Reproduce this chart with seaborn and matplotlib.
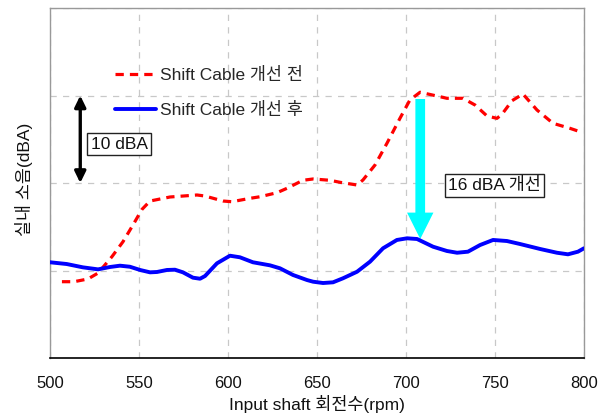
import numpy as np
import pandas as pd
import matplotlib
matplotlib.use("Agg")
import matplotlib.pyplot as plt
import seaborn as sns

# ---- data ----
rpm_before = [506.7, 513.5, 521.3, 527.0, 534.8, 541.0, 546.6, 551.7, 556.2, 567.4,
              582.6, 587.1, 597.2, 602.2, 612.4, 618.0, 627.5, 633.1, 642.1, 647.8,
              657.3, 662.9, 672.5, 675.8, 682.6, 689.3, 696.6, 702.2, 707.9, 717.4,
              723.0, 732.0, 738.8, 745.5, 751.1, 753.9, 759.6, 765.7, 773.6, 782.6,
              792.1, 799.4]
noise_before = [48.72, 48.72, 49.03, 49.71, 51.58, 53.29, 55.20, 56.99, 57.94, 58.40,
                58.63, 58.51, 57.94, 57.86, 58.25, 58.43, 58.89, 59.39, 60.31, 60.46,
                60.31, 60.08, 59.77, 60.34, 62.06, 64.54, 67.39, 69.49, 70.37, 69.94,
                69.68, 69.68, 68.91, 67.66, 67.39, 67.85, 69.41, 70.17, 68.34, 66.82,
                66.25, 65.75]

rpm_after = [500.0, 509.4, 518.5, 527.0, 533.7, 539.3, 544.9, 550.6, 556.2, 560.1,
             565.7, 570.2, 574.7, 580.3, 584.3, 587.1, 593.8, 601.1, 606.7, 614.0,
             623.6, 629.2, 636.5, 644.4, 647.8, 653.4, 659.0, 664.6, 672.5, 679.8,
             687.1, 694.9, 700.6, 706.2, 715.2, 723.0, 728.7, 734.8, 741.6, 748.9,
             756.7, 764.0, 775.3, 784.8, 791.0, 796.6, 800.0]
noise_after = [50.94, 50.74, 50.36, 50.13, 50.40, 50.55, 50.43, 50.06, 49.79, 49.83,
               50.06, 50.09, 49.79, 49.18, 49.06, 49.37, 50.82, 51.69, 51.51, 50.94,
               50.59, 50.25, 49.49, 48.91, 48.72, 48.57, 48.65, 49.11, 49.86, 51.01,
               52.54, 53.49, 53.68, 53.60, 52.72, 52.23, 52.03, 52.15, 52.91, 53.49,
               53.37, 53.03, 52.46, 52.03, 51.85, 52.15, 52.54]

label_before = "Shift Cable 개선 전"
label_after = "Shift Cable 개선 후"
x_ticks = [500, 550, 600, 650, 700, 750, 800]
y_grid = [40, 50, 60, 70, 80]

# annotation values
scale_x, scale_lo, scale_hi = 517, 60, 70
scale_text = "10 dBA"
improve_x, improve_hi, improve_lo = 708, 69.6, 53.6
improve_text = "16 dBA 개선"

# ---- figure ----
sns.set_theme(style="white")
FONTS = ['Liberation Sans', 'Noto Sans CJK KR', 'DejaVu Sans']
plt.rcParams['font.family'] = FONTS
plt.rcParams['axes.unicode_minus'] = False
FS = 12.5

fig = plt.figure(figsize=(6.12, 4.16), dpi=100)
ax = fig.add_axes([50/612, 1-358/416, 534/612, 350/416])

df_b = pd.DataFrame({"rpm": rpm_before, "noise": noise_before})
df_a = pd.DataFrame({"rpm": rpm_after, "noise": noise_after})

sns.lineplot(data=df_b, x="rpm", y="noise", ax=ax, color="#ff0000", lw=2.3,
             label=label_before, zorder=3)
ax.lines[-1].set_dashes((2.6, 1.9))
sns.lineplot(data=df_a, x="rpm", y="noise", ax=ax, color="#0000ff", lw=2.8,
             label=label_after, zorder=3)
for ln in ax.lines:
    ln.set_solid_joinstyle('round')
    ln.set_dash_joinstyle('round')

ax.set_xlim(500, 800)
ax.set_ylim(40, 80)
ax.set_xticks(x_ticks)
ax.set_yticks(y_grid)
ax.set_yticklabels([])
ax.tick_params(axis='y', length=0)
ax.tick_params(axis='x', direction='in', length=4, width=1, color='black',
               labelsize=12, pad=13, labelcolor='#111111')
ax.grid(True, color='#c8c8c8', linestyle=(0, (5, 5)), lw=0.9)

for s in ['top', 'right', 'left']:
    ax.spines[s].set_color('#999999')
    ax.spines[s].set_linewidth(1.0)
ax.spines['bottom'].set_color('black')
ax.spines['bottom'].set_linewidth(1.2)

ax.set_xlabel("Input shaft 회전수(rpm)", fontsize=FS, labelpad=3, color='#111111')
ax.set_ylabel("실내 소음(dBA)", fontsize=FS, labelpad=9, color='#111111')
ax.yaxis.label.set_y(0.51)

leg = ax.legend(loc='upper left', bbox_to_anchor=(0.0925, 0.875), frameon=False,
                fontsize=FS, handlelength=2.36, handletextpad=0.23, labelspacing=1.1)

# 10 dBA scale arrow
ax.annotate('', xy=(scale_x, scale_hi), xytext=(scale_x, scale_lo),
            arrowprops=dict(arrowstyle='<|-|>,head_length=0.45,head_width=0.22',
                            color='black', lw=2.4, mutation_scale=15,
                            shrinkA=0, shrinkB=0), zorder=4)
ax.text(523, 64.45, scale_text, fontsize=FS, ha='left', va='center', color='#111111',
        bbox=dict(boxstyle='square,pad=0.2', fc='white', ec='#222222', lw=1))

# 16 dBA improvement arrow
ax.annotate('', xy=(improve_x, improve_lo), xytext=(improve_x, improve_hi),
            arrowprops=dict(arrowstyle='simple,head_length=0.95,head_width=0.95,tail_width=0.35',
                            color='#00ffff', mutation_scale=20, lw=0,
                            shrinkA=0, shrinkB=0), zorder=2)
ax.text(723.6, 59.75, improve_text, fontsize=FS, ha='left', va='center', color='#111111',
        bbox=dict(boxstyle='square,pad=0.2', fc='white', ec='#222222', lw=1))

fig.savefig("out.png", dpi=100)
